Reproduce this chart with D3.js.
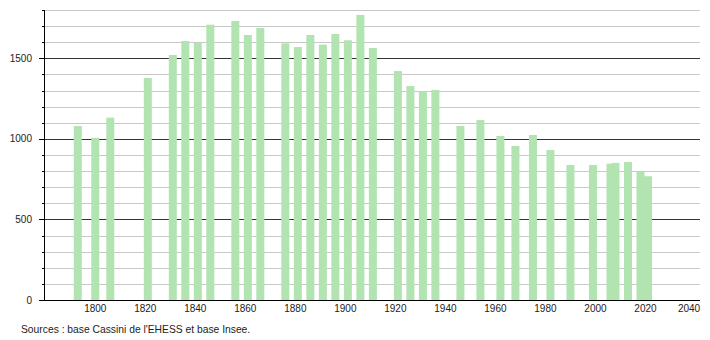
<!DOCTYPE html>
<html lang="fr">
<head>
<meta charset="UTF-8">
<title>Évolution démographique</title>
<script src="https://d3js.org/d3.v7.min.js"></script>
<style>
    body { margin: 0; background: #fff; font-family: "Liberation Sans", Arial, sans-serif; }
    svg text { font-family: "Liberation Sans", Arial, sans-serif; fill: #222; }
</style>
</head>
<body>
<div id="chart"></div>
<script>
    // census years and population
    const years = [1793, 1800, 1806, 1821, 1831, 1836, 1841, 1846, 1856, 1861, 1866,
        1876, 1881, 1886, 1891, 1896, 1901, 1906, 1911, 1921, 1926, 1931, 1936,
        1946, 1954, 1962, 1968, 1975, 1982, 1990, 1999, 2006, 2008, 2013, 2018, 2021];
    const population = [1080, 1007, 1132, 1378, 1521, 1608, 1595, 1709, 1732, 1645, 1688,
        1593, 1570, 1645, 1585, 1651, 1612, 1769, 1564, 1421, 1328, 1297, 1304,
        1080, 1117, 1018, 956, 1024, 931, 838, 838, 846, 851, 857, 799, 768];
    const xTicks = [1800, 1820, 1840, 1860, 1880, 1900, 1920, 1940, 1960, 1980, 2000, 2020, 2040];
    const yLabels = [0, 500, 1000, 1500];
    const yMinor = d3.range(100, 1801, 100);
    const source = "Sources : base Cassini de l'EHESS et base Insee.";

    const W = 710, H = 340;
    const plot = {left: 44, right: 700, top: 10, bottom: 300};

    const svg = d3.select("#chart").append("svg")
        .attr("width", W).attr("height", H);

    const x = d3.scaleLinear().domain([1779.5, 2041.8]).range([plot.left, plot.right]);
    const y = d3.scaleLinear().domain([0, 1800]).range([plot.bottom, plot.top]);

    // grid lines, every 100 light, every 500 dark
    svg.append("g").selectAll("line")
        .data(yMinor)
        .join("line")
        .attr("x1", plot.left).attr("x2", plot.right)
        .attr("y1", d => Math.round(y(d)) + 0.5)
        .attr("y2", d => Math.round(y(d)) + 0.5)
        .attr("stroke", d => d % 500 === 0 ? "#333" : "#c8c8c8")
        .attr("stroke-width", 1);

    // bars
    const bw = 8;
    svg.append("g").selectAll("rect")
        .data(years.map((yr, i) => ({year: yr, pop: population[i]})))
        .join("rect")
        .attr("x", d => x(d.year) - bw / 2)
        .attr("y", d => y(d.pop))
        .attr("width", bw)
        .attr("height", d => y(0) - y(d.pop))
        .attr("fill", "#b1e4b1");

    // y axis
    const yAxis = svg.append("g");
    yAxis.append("line")
        .attr("x1", plot.left + 0.5).attr("x2", plot.left + 0.5)
        .attr("y1", plot.top).attr("y2", plot.bottom)
        .attr("stroke", "#000");
    yAxis.selectAll(".minor")
        .data(yMinor)
        .join("line")
        .attr("class", "minor")
        .attr("x1", plot.left - 2).attr("x2", plot.left)
        .attr("y1", d => Math.round(y(d)) + 0.5)
        .attr("y2", d => Math.round(y(d)) + 0.5)
        .attr("stroke", "#000");
    yAxis.selectAll(".major")
        .data(yLabels)
        .join("line")
        .attr("class", "major")
        .attr("x1", plot.left - 5).attr("x2", plot.left)
        .attr("y1", d => Math.round(y(d)) + 0.5)
        .attr("y2", d => Math.round(y(d)) + 0.5)
        .attr("stroke", "#000");
    yAxis.selectAll("text")
        .data(yLabels)
        .join("text")
        .attr("x", 32)
        .attr("y", d => y(d) + 3.5)
        .attr("text-anchor", "end")
        .style("font-size", "10px")
        .text(d => d);

    // x axis
    svg.append("line")
        .attr("x1", plot.left - 5).attr("x2", plot.right)
        .attr("y1", plot.bottom + 0.5).attr("y2", plot.bottom + 0.5)
        .attr("stroke", "#000");
    svg.append("g").selectAll("text")
        .data(xTicks)
        .join("text")
        .attr("x", d => Math.min(x(d), plot.right - 11))
        .attr("y", plot.bottom + 12)
        .attr("text-anchor", "middle")
        .style("font-size", "10px")
        .text(d => d);

    svg.append("text")
        .attr("x", 21)
        .attr("y", 333)
        .style("font-size", "10.3px")
        .text(source);
</script>
</body>
</html>
